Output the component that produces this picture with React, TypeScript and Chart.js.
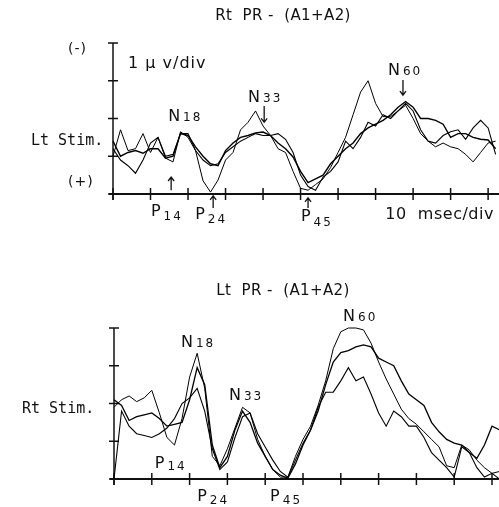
import React, { useEffect, useRef } from "react";
import { Chart, registerables } from "chart.js";

Chart.register(...registerables);

// ---- DATA (time in msec, amplitude in µV = divisions above baseline; negative is up) ----
const timeMs = [
  0, 2, 4, 6, 8, 10, 12, 14, 16, 18, 20, 22, 24, 26, 28, 30, 32, 34, 36, 38, 40, 42, 44, 46, 48, 50,
  52, 54, 56, 58, 60, 62, 64, 66, 68, 70, 72, 74, 76, 78, 80, 82, 84, 86, 88, 90, 92, 94, 96, 98, 100, 102,
];

// Top panel: Rt PR - (A1+A2), Lt Stim.
const topTraceA = [
  1.0, 1.7, 1.15, 1.2, 1.6, 1.1, 1.5, 0.95, 0.85, 1.65, 1.5, 1.15, 0.35, 0.05, 0.37, 0.9, 1.1, 1.7, 1.9, 2.2,
  1.8, 1.55, 1.2, 1.1, 0.6, 0.15, 0.1, 0.25, 0.4, 0.7, 1.1, 1.5, 2.1, 2.7, 3.0, 2.4, 2.05, 2.05, 2.2, 2.35,
  2.0, 1.6, 1.4, 1.25, 1.35, 1.25, 1.2, 1.05, 0.85, 1.1, 1.35, 1.4,
];
const topTraceB = [
  1.4, 1.0, 1.1, 1.15, 1.08, 1.2, 1.2, 0.95, 1.0, 1.6, 1.55, 1.25, 1.0, 0.8, 0.75, 1.15, 1.35, 1.5, 1.55, 1.62,
  1.64, 1.55, 1.35, 1.2, 0.98, 0.6, 0.3, 0.4, 0.5, 0.8, 1.0, 1.2, 1.35, 1.6, 1.75, 1.85, 1.95, 2.1, 2.3, 2.45,
  2.3, 2.0, 2.0, 1.95, 1.85, 1.5, 1.6, 1.6, 1.5, 1.45, 1.43, 1.2,
];
const topTraceC = [
  1.2, 0.9, 0.75, 0.55, 0.9, 1.35, 1.5, 1.0, 1.05, 1.6, 1.6, 1.15, 0.9, 0.75, 0.8, 1.1, 1.25, 1.4, 1.5, 1.6,
  1.55, 1.55, 1.6, 1.45, 1.1, 0.5, 0.2, 0.1, 0.45, 0.6, 0.85, 1.4, 1.2, 1.5, 1.9, 1.8, 2.1, 2.0, 2.2, 2.4,
  2.2, 1.7, 1.4, 1.35, 1.55, 1.65, 1.7, 1.45, 1.75, 1.95, 1.75, 1.05,
];

// Bottom panel: Lt PR - (A1+A2), Rt Stim.
const bottomTraceU = [
  1.9, 2.1, 2.2, 2.05, 2.15, 2.35, 1.75, 1.1, 0.9, 1.6, 2.7, 3.33, 2.4, 0.6, 0.35, 0.8, 1.35, 1.9, 1.75, 1.05,
  0.6, 0.25, 0.05, 0.05, 0.6, 1.05, 1.4, 1.95, 2.6, 3.45, 3.9, 4.0, 4.0, 3.95, 3.6, 3.1, 2.65, 2.25, 1.85, 1.6,
  1.45, 1.25, 1.05, 0.85, 0.35, 0.3, 0.9, 0.77, 0.5, 0.3, 0.15, 0.2,
];
const bottomTraceM = [
  2.1, 1.95, 1.55, 1.65, 1.7, 1.75, 1.6, 1.4, 1.45, 1.5, 2.1, 2.95, 2.5, 0.9, 0.3, 0.6, 1.3, 1.8, 1.5, 0.95,
  0.6, 0.25, 0.1, 0.02, 0.4, 0.9, 1.3, 1.8, 2.5, 3.1, 3.35, 3.4, 3.5, 3.55, 3.5, 3.2, 3.1, 3.0, 2.6, 2.25,
  2.1, 1.95, 1.5, 1.25, 1.05, 0.95, 0.9, 0.7, 0.55, 0.9, 1.4, 1.3,
];
const bottomTraceL = [
  0.0, 1.8, 1.4, 1.2, 1.15, 1.1, 1.2, 1.35, 1.6, 2.0, 2.15, 2.4, 1.8, 0.8, 0.25, 0.45, 1.1, 1.65, 1.75, 1.2,
  0.85, 0.5, 0.2, 0.05, 0.5, 0.95, 1.3, 1.9, 2.3, 2.3, 2.6, 2.95, 2.6, 2.7, 2.25, 1.75, 1.4, 1.8, 1.65, 1.4,
  1.4, 1.1, 0.7, 0.5, 0.3, 0.05, 0.85, 0.7, 0.3, 0.05, 0.15, 0.0,
];

const yTicks = [0, 1, 2, 3, 4];
const xTicks = [0, 10, 20, 30, 40, 50, 60, 70, 80, 90, 100];

const topTitle = "Rt  PR -  (A1+A2)";
const bottomTitle = "Lt  PR -  (A1+A2)";
const topSideLabel = "Lt Stim.";
const bottomSideLabel = "Rt Stim.";
const negLabel = "(-)";
const posLabel = "(+)";
const ampScaleLabel = "1 \u03bc v/div";
const timeScaleLabel = "10  msec/div";

// peak names (letter + latency)
const topPeakNames = [["N", "18"], ["N", "33"], ["N", "60"], ["P", "14"], ["P", "24"], ["P", "45"]];
const bottomPeakNames = [["N", "18"], ["N", "33"], ["N", "60"], ["P", "14"], ["P", "24"], ["P", "45"]];

// ---- LAYOUT (annotation anchors in data units: [ms, µV, subscript drop px]) ----
const topPeakAnchors = [
  [14.7, 1.93, 0], [36, 2.45, 0], [73.3, 3.15, 0],
  [10.1, -0.58, 4], [21.9, -0.66, 4], [50.1, -0.72, 5],
];
const bottomPeakAnchors = [
  [17.7, 3.5, 0], [30.4, 2.09, 0], [60.6, 4.19, 0],
  [10.8, 0.29, 2], [22.0, -0.58, 3], [41.3, -0.58, 3],
];
// arrows: [ms, tail µV, tip µV]
const topArrows = [
  [40.3, 2.33, 1.9], [77.3, 3.02, 2.62],
  [15.5, 0.1, 0.45], [26.7, -0.37, -0.05], [52, -0.37, -0.1],
];

type Panel = {
  canvasH: number;
  padding: { left: number; right: number; top: number; bottom: number };
  xMax: number;
  traces: number[][];
  widths: number[];
  title: string;
  titleY: number;
  side: string;
  sideX: number;
  sideY: number;
  polarity: boolean;
  peaks: string[][];
  anchors: number[][];
  arrows: number[][];
  scaleLabels: boolean;
};

const topPanel: Panel = {
  canvasH: 250,
  padding: { left: 113, right: 0, top: 43, bottom: 56 },
  xMax: 102.9,
  traces: [topTraceA, topTraceB, topTraceC],
  widths: [1.0, 1.4, 1.1],
  title: topTitle,
  titleY: 20,
  side: topSideLabel,
  sideX: 31,
  sideY: 145,
  polarity: true,
  peaks: topPeakNames,
  anchors: topPeakAnchors,
  arrows: topArrows,
  scaleLabels: true,
};

const bottomPanel: Panel = {
  canvasH: 257,
  padding: { left: 114, right: 0, top: 78, bottom: 28 },
  xMax: 101.85,
  traces: [bottomTraceU, bottomTraceM, bottomTraceL],
  widths: [1.0, 1.3, 1.1],
  title: bottomTitle,
  titleY: 45,
  side: bottomSideLabel,
  sideX: 22,
  sideY: 163,
  polarity: false,
  peaks: bottomPeakNames,
  anchors: bottomPeakAnchors,
  arrows: [],
  scaleLabels: false,
};

const INK = "#111";
const SANS = '"DejaVu Sans", sans-serif';
const MONO = '"DejaVu Sans Mono", monospace';

function arrow(ctx: CanvasRenderingContext2D, x: number, yTail: number, yTip: number) {
  const dir = yTip < yTail ? -1 : 1;
  ctx.beginPath();
  ctx.moveTo(x, yTail);
  ctx.lineTo(x, yTip);
  ctx.moveTo(x - 3, yTip - dir * 4);
  ctx.lineTo(x, yTip);
  ctx.lineTo(x + 3, yTip - dir * 4);
  ctx.stroke();
}

function makeDecor(p: Panel) {
  return {
    id: "decor",
    beforeDatasetsDraw(chart: any) {
      const ctx: CanvasRenderingContext2D = chart.ctx;
      const xs = chart.scales.x;
      const ys = chart.scales.y;
      const x0 = xs.getPixelForValue(0);
      const yBase = ys.getPixelForValue(0);
      const yTop = ys.getPixelForValue(4);
      ctx.save();
      ctx.strokeStyle = INK;
      ctx.lineWidth = 1.5;
      ctx.beginPath();
      ctx.moveTo(x0, yTop);
      ctx.lineTo(x0, yBase + 6);
      ctx.stroke();
      yTicks.forEach((v) => {
        const y = ys.getPixelForValue(v);
        ctx.beginPath();
        ctx.moveTo(x0 - 5, y);
        ctx.lineTo(x0 + 5, y);
        ctx.stroke();
      });
      ctx.lineWidth = 2;
      ctx.beginPath();
      ctx.moveTo(x0 - 4, yBase);
      ctx.lineTo(chart.width, yBase);
      ctx.stroke();
      ctx.lineWidth = 1.5;
      xTicks.forEach((t) => {
        const x = xs.getPixelForValue(t);
        ctx.beginPath();
        ctx.moveTo(x, yBase - 6);
        ctx.lineTo(x, yBase + 6);
        ctx.stroke();
      });
      ctx.restore();
    },
    afterDraw(chart: any) {
      const ctx: CanvasRenderingContext2D = chart.ctx;
      const xs = chart.scales.x;
      const ys = chart.scales.y;
      ctx.save();
      ctx.fillStyle = INK;
      ctx.strokeStyle = INK;
      ctx.textBaseline = "alphabetic";
      // title
      ctx.font = `15px ${SANS}`;
      (ctx as any).letterSpacing = "0.4px";
      ctx.textAlign = "center";
      ctx.fillText(p.title, 283, p.titleY);
      ctx.textAlign = "left";
      (ctx as any).letterSpacing = "0px";
      // side label
      ctx.font = `15px ${MONO}`;
      ctx.fillText(p.side, p.sideX, p.sideY);
      if (p.polarity) {
        ctx.font = `14px ${SANS}`;
        (ctx as any).letterSpacing = "1px";
        ctx.fillText(negLabel, 68, 53);
        ctx.fillText(posLabel, 68, 186);
        (ctx as any).letterSpacing = "0px";
      }
      if (p.scaleLabels) {
        ctx.font = `16px ${SANS}`;
        (ctx as any).letterSpacing = "1px";
        ctx.fillText(ampScaleLabel, xs.getPixelForValue(4), ys.getPixelForValue(3.34));
        (ctx as any).letterSpacing = "0.5px";
        ctx.fillText(timeScaleLabel, xs.getPixelForValue(72.6), ys.getPixelForValue(-0.66));
        (ctx as any).letterSpacing = "0px";
      }
      // peaks
      p.peaks.forEach((nm, i) => {
        const [ms, v, drop] = p.anchors[i];
        const x = xs.getPixelForValue(ms);
        const y = ys.getPixelForValue(v);
        ctx.font = `16px ${SANS}`;
        (ctx as any).letterSpacing = "0px";
        ctx.fillText(nm[0], x, y);
        const w = ctx.measureText(nm[0]).width;
        ctx.font = `12px ${SANS}`;
        (ctx as any).letterSpacing = "2px";
        ctx.fillText(nm[1], x + w + 3, y + drop);
        (ctx as any).letterSpacing = "0px";
      });
      // arrows
      ctx.lineWidth = 1.3;
      p.arrows.forEach(([ms, a, b]) => {
        arrow(ctx, xs.getPixelForValue(ms), ys.getPixelForValue(a), ys.getPixelForValue(b));
      });
      ctx.restore();
    },
  };
}

function buildChart(canvas: HTMLCanvasElement, p: Panel) {
  return new Chart(canvas, {
    type: "line",
    data: {
      datasets: p.traces.map((tr, i) => ({
        data: timeMs.map((t, k) => ({ x: t, y: tr[k] })),
        borderColor: "#000",
        borderWidth: p.widths[i],
        pointRadius: 0,
        tension: 0,
        fill: false,
        clip: 8,
      })),
    },
    options: {
      animation: false,
      responsive: false,
      devicePixelRatio: 1,
      layout: { padding: p.padding },
      scales: {
        x: { type: "linear", min: 0, max: p.xMax, display: false },
        y: { type: "linear", min: 0, max: 4, display: false },
      },
      plugins: { legend: { display: false }, tooltip: { enabled: false }, title: { display: false } },
      events: [],
    },
    plugins: [makeDecor(p)],
  } as any);
}

export default function App() {
  const topRef = useRef<HTMLCanvasElement>(null);
  const botRef = useRef<HTMLCanvasElement>(null);
  useEffect(() => {
    const c1 = buildChart(topRef.current!, topPanel);
    const c2 = buildChart(botRef.current!, bottomPanel);
    return () => {
      c1.destroy();
      c2.destroy();
    };
  }, []);
  return (
    <div style={{ position: "absolute", left: 0, top: 0, width: 499, height: 507, background: "#fff" }}>
      <canvas
        ref={topRef}
        width={499}
        height={topPanel.canvasH}
        style={{ position: "absolute", left: 0, top: 0, width: 499, height: topPanel.canvasH }}
      />
      <canvas
        ref={botRef}
        width={499}
        height={bottomPanel.canvasH}
        style={{ position: "absolute", left: 0, top: 250, width: 499, height: bottomPanel.canvasH }}
      />
    </div>
  );
}
